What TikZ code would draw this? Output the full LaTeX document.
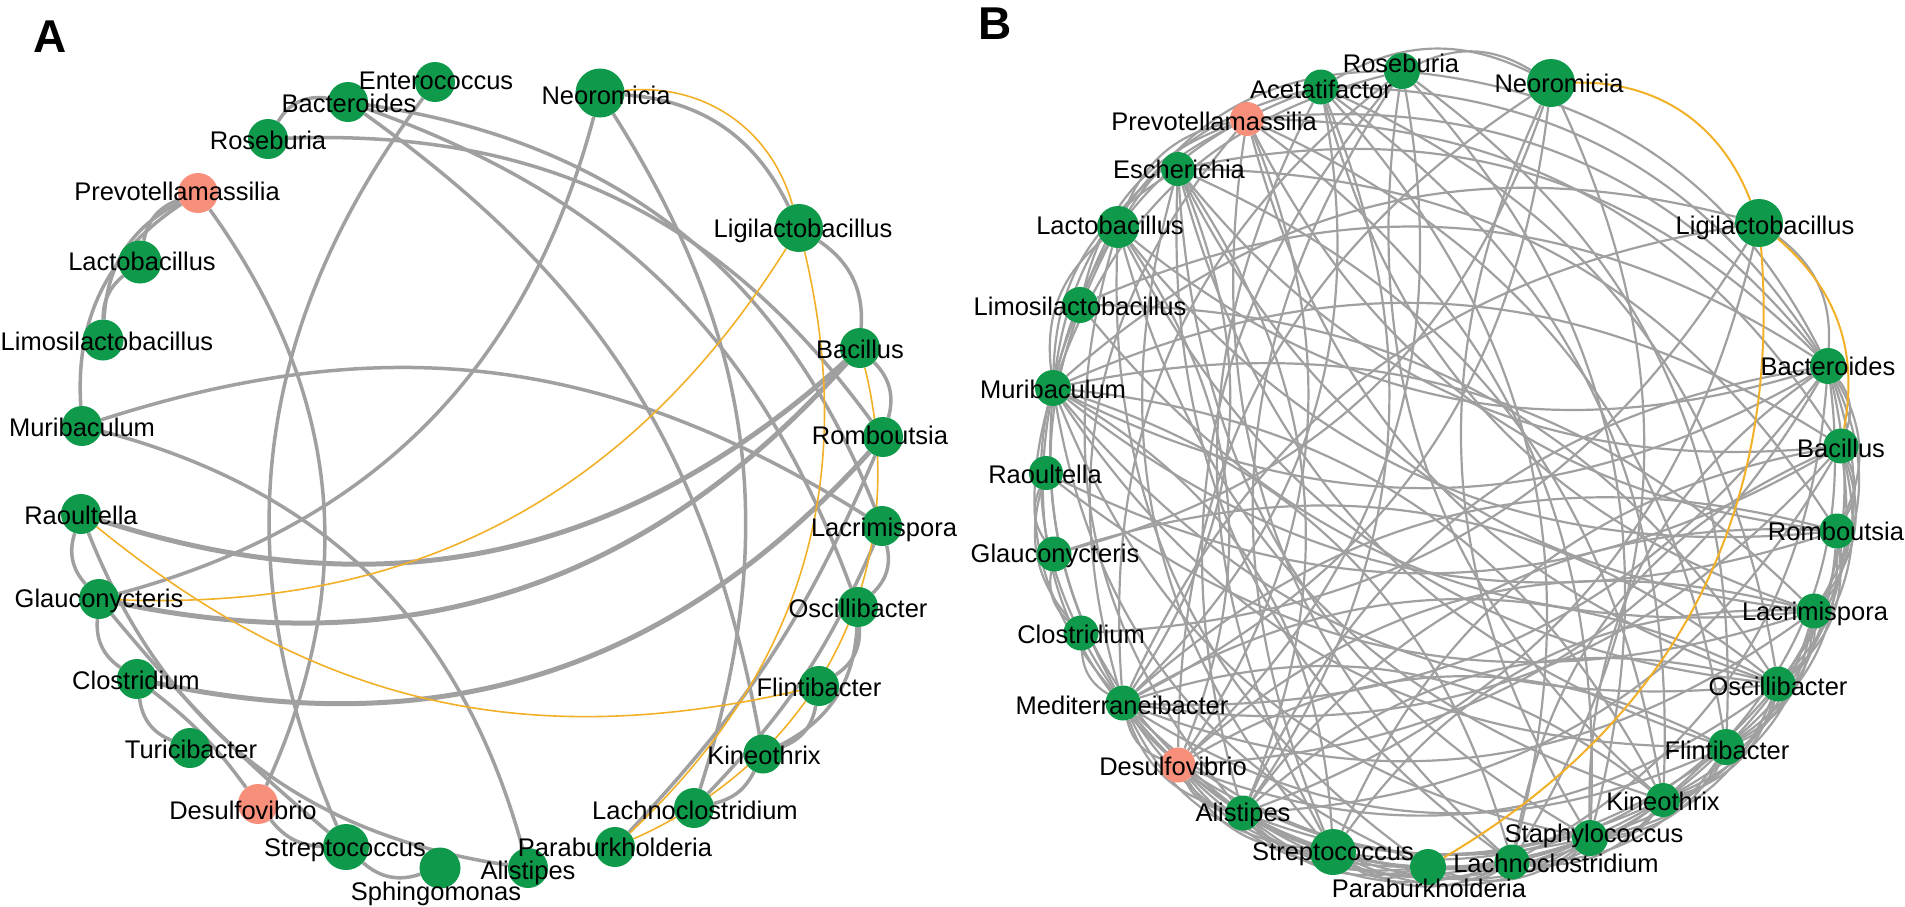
\documentclass[tikz,border=0pt]{standalone}
\usepackage{fontspec}
\setmainfont{Liberation Sans}
\usetikzlibrary{backgrounds}
\definecolor{ngreen}{RGB}{14,154,74}
\definecolor{nsalmon}{RGB}{248,143,122}
\definecolor{egray}{RGB}{160,160,160}
\definecolor{eorange}{RGB}{242,176,40}
\tikzset{
  gnode/.style={circle, fill=ngreen, inner sep=0pt, minimum size=#1},
  snode/.style={circle, fill=nsalmon, inner sep=0pt, minimum size=#1},
  lab/.style={font=\fontsize{25.5}{30}\selectfont, anchor=base, inner sep=0pt},
  panel/.style={font=\fontsize{46}{46}\selectfont\bfseries, inner sep=0pt},
  ae/.style={draw=egray, line width=3.5pt},
  aet/.style={draw=egray, line width=5pt},
  ao/.style={draw=eorange, line width=1.6pt},
  be/.style={draw=egray, line width=2.2pt},
  bo/.style={draw=eorange, line width=2pt}
}
\begin{document}
\begin{tikzpicture}[x=1pt,y=-1pt]
\useasboundingbox (0,0) rectangle (1905,906);
\node[panel] (pA) at (50,37) {A};
\node[panel] (pB) at (995,24) {B};

% ---------------- Panel A nodes ----------------
\node[gnode=40] (aEnt) at (435,82) {};
\node[gnode=40] (aBac) at (348,102) {};
\node[gnode=40] (aRos) at (268,139) {};
\node[snode=40] (aPre) at (198,193) {};
\node[gnode=43] (aLac) at (140,262) {};
\node[gnode=41] (aLim) at (103,340) {};
\node[gnode=40] (aMur) at (82,426) {};
\node[gnode=40] (aRao) at (81,514) {};
\node[gnode=40] (aGla) at (99,599) {};
\node[gnode=40] (aClo) at (137,679) {};
\node[gnode=40] (aTur) at (190,748) {};
\node[snode=40] (aDes) at (258,804) {};
\node[gnode=46] (aStr) at (346,847) {};
\node[gnode=41] (aSph) at (440,868) {};
\node[gnode=40] (aAli) at (528,868) {};
\node[gnode=40] (aPar) at (615,847) {};
\node[gnode=40] (aLch) at (694,808) {};
\node[gnode=39] (aKin) at (763,754) {};
\node[gnode=40] (aFli) at (819,686) {};
\node[gnode=40] (aOsc) at (858,607) {};
\node[gnode=40] (aLcr) at (882,526) {};
\node[gnode=40] (aRom) at (883,437) {};
\node[gnode=40] (aBcl) at (860,348) {};
\node[gnode=48] (aLig) at (799,228) {};
\node[gnode=49] (aNeo) at (600,93) {};

% ---------------- Panel A labels ----------------
\node[lab] (laEnt) at (436,89) {Enterococcus};
\node[lab] (laBac) at (349,112) {Bacteroides};
\node[lab] (laRos) at (268,149) {Roseburia};
\node[lab] (laPre) at (177,200) {Prevotellamassilia};
\node[lab] (laLac) at (142,270) {Lactobacillus};
\node[lab] (laLim) at (107,350) {Limosilactobacillus};
\node[lab] (laMur) at (82,436) {Muribaculum};
\node[lab] (laRao) at (81,524) {Raoultella};
\node[lab] (laGla) at (99,607) {Glauconycteris};
\node[lab] (laClo) at (136,689) {Clostridium};
\node[lab] (laTur) at (191,758) {Turicibacter};
\node[lab] (laDes) at (243,819) {Desulfovibrio};
\node[lab] (laStr) at (345,856) {Streptococcus};
\node[lab] (laSph) at (436,900) {Sphingomonas};
\node[lab] (laAli) at (528,879) {Alistipes};
\node[lab] (laPar) at (615,856) {Paraburkholderia};
\node[lab] (laLch) at (695,819) {Lachnoclostridium};
\node[lab] (laKin) at (764,764) {Kineothrix};
\node[lab] (laFli) at (819,696) {Flintibacter};
\node[lab] (laOsc) at (858,617) {Oscillibacter};
\node[lab] (laLcr) at (884,536) {Lacrimispora};
\node[lab] (laRom) at (880,444) {Romboutsia};
\node[lab] (laBcl) at (860,358) {Bacillus};
\node[lab] (laLig) at (803,237) {Ligilactobacillus};
\node[lab] (laNeo) at (606,104) {Neoromicia};

% ---------------- Panel B nodes (clockwise from top) ----------------
\foreach \i/\x/\y/\s/\c in {
  0/1551/83/48/ngreen, 1/1759/223/48/ngreen, 2/1828/366/36/ngreen,
  3/1841/446/35/ngreen, 4/1837/531/35/ngreen, 5/1814/611/35/ngreen,
  6/1778/684/35/ngreen, 7/1726/747/36/ngreen, 8/1663/800/34/ngreen,
  9/1590/838/36/ngreen, 10/1512/862/35/ngreen, 11/1428/867/36/ngreen,
  12/1333/852/46/ngreen, 13/1243/813/35/ngreen, 14/1178/765/35/nsalmon,
  15/1123/703/35/ngreen, 16/1081/633/35/ngreen, 17/1054/554/35/ngreen,
  18/1046/473/34/ngreen, 19/1053/388/36/ngreen, 20/1080/305/36/ngreen,
  21/1118/227/42/ngreen, 22/1178/169/34/ngreen, 23/1247/119/34/nsalmon,
  24/1321/87/35/ngreen, 25/1402/71/36/ngreen}
  {\node[circle, fill=\c, inner sep=0pt, minimum size=\s] (b\i) at (\x,\y) {};}

% ---------------- Panel B labels ----------------
\foreach \i/\x/\y/\t in {
  0/1559/83/Neoromicia, 1/1765/225/Ligilactobacillus, 2/1828/366/Bacteroides,
  3/1841/448/Bacillus, 4/1836/531/Romboutsia, 5/1815/611/Lacrimispora,
  6/1778/686/Oscillibacter, 7/1727/750/Flintibacter, 8/1663/801/Kineothrix,
  9/1594/833/Staphylococcus, 10/1556/863/Lachnoclostridium, 11/1429/888/Paraburkholderia,
  12/1333/851/Streptococcus, 13/1243/812/Alistipes, 14/1173/766/Desulfovibrio,
  15/1122/705/Mediterraneibacter, 16/1081/634/Clostridium, 17/1055/553/Glauconycteris,
  18/1045/474/Raoultella, 19/1053/389/Muribaculum, 20/1080/306/Limosilactobacillus,
  21/1110/225/Lactobacillus, 22/1179/169/Escherichia, 23/1214/121/Prevotellamassilia,
  24/1321/89/Acetatifactor, 25/1401/63/Roseburia}
  {\node[lab] (bl\i) at (\x,\y+9) {\t};}

% ---------------- Edges ----------------
\begin{scope}[on background layer]
% Panel A gray
\draw[ae] (aRos) to[bend left=35] (aBac);
\draw[ae] (aEnt) to[bend right=30] (aStr);
\draw[ae] (aBac) to[bend left=30] (aLcr);
\draw[ae] (aBac) to[bend left=25] (aOsc);
\draw[ae] (aBac) to[bend left=22] (aKin);
\draw[ae] (aRos) to[bend left=28] (aRom);
\draw[ae] (aPre) to[bend right=30] (aLac);
\draw[ae] (aPre) to[bend right=30] (aLim);
\draw[ae] (aPre) to[bend right=30] (aMur);
\draw[ae] (aLac) to[bend right=25] (aLim);
\draw[ae] (aPre) to[bend left=30] (aDes);
\draw[ae] (aMur) to[bend left=25] (aLcr);
\draw[ae] (aMur) to[bend left=30] (aAli);
\draw[ae] (aRao) to[bend right=30] (aGla);
\draw[aet] (aRao) to[bend right=30] (aBcl);
\draw[ae] (aRao) to[bend right=30] (aAli);
\draw[aet] (aGla) to[bend right=30] (aBcl);
\draw[ae] (aGla) to[bend right=30] (aNeo);
\draw[ae] (aGla) to[bend right=30] (aClo);
\draw[aet] (aClo) to[bend right=30] (aRom);
\draw[ae] (aClo) to[bend right=30] (aTur);
\draw[ae] (aClo) to[bend left=8] (aDes);
\draw[ae] (aDes) to[bend right=25] (aStr);
\draw[ae] (aStr) to[bend right=30] (aSph);
\draw[ae] (aGla) to[bend right=5] (aStr);
\draw[ae] (aNeo) to[bend left=30] (aLig);
\draw[ae] (aNeo) to[bend left=25] (aLch);
\draw[ae] (aLig) to[bend left=30] (aBcl);
\draw[ae] (aBcl) to[bend left=30] (aRom);
\draw[ae] (aRom) to[bend left=10] (aPar);
\draw[ae] (aLch) to[bend right=10] (aLcr);
\draw[ae] (aLcr) to[bend left=30] (aOsc);
\draw[ae] (aOsc) to[bend left=30] (aFli);
\draw[ae] (aOsc) to[bend left=30] (aKin);
\draw[ae] (aFli) to[bend left=30] (aKin);
\draw[ae] (aKin) to[bend left=25] (aLch);
% Panel A orange
\draw[ao] (aNeo) to[bend left=40] (aLig);
\draw[ao] (aGla) to[bend right=30] (aLig);
\draw[ao] (aLig) to[bend left=30] (aPar);
\draw[ao] (aRao) to[bend right=26] (aFli);
\draw[ao] (aBcl) to[bend left=40] (aPar);

% Panel B gray: short edges bow outward, long ones alternate sides
\foreach \p/\q in {
 25/19,25/15,25/14,25/13,25/12,25/9,25/8,25/7,25/2,25/21,25/0,
 24/19,24/20,24/15,24/13,24/10,24/6,24/5,24/2,24/12,24/8,
 23/21,23/20,23/19,23/15,23/14,23/9,23/7,23/6,23/4,23/2,23/3,23/10,
 22/19,22/15,22/13,22/12,22/10,22/9,22/8,22/7,22/5,22/4,22/2,22/3,
 21/19,21/15,21/14,21/13,21/11,21/8,21/6,21/2,21/4,
 20/15,20/2,20/5,20/6,
 19/15,19/14,19/13,19/12,19/11,19/10,19/9,19/8,19/7,19/6,19/5,19/4,19/3,19/2,19/1,
 18/17,18/16,18/3,18/5,
 17/16,17/0,17/6,
 16/15,16/1,
 15/14,15/13,15/12,15/11,15/10,15/9,15/8,15/7,15/6,15/5,15/4,15/3,15/2,15/1,15/0,
 14/13,14/12,14/11,14/10,14/9,14/8,14/7,14/6,14/5,14/2,14/0,
 13/12,13/11,13/10,13/9,13/8,13/7,13/6,13/4,13/3,13/2,13/1,
 12/11,12/10,12/9,12/8,12/7,12/6,12/5,12/3,
 11/10,11/9,
 10/9,10/8,10/7,10/3,10/2,10/0,
 9/8,9/7,9/6,9/5,9/2,9/0,
 8/7,8/6,8/5,8/4,8/2,
 7/6,7/5,7/4,7/3,7/2,
 6/5,6/4,6/3,6/2,
 5/4,5/3,5/2,
 4/3,4/2,
 3/2,
 2/1,
 0/24}
{
  \pgfmathtruncatemacro\dd{mod(\q-\p+26,26)}
  \pgfmathtruncatemacro\pty{mod(\p+\q,2)}
  \ifnum\dd>13
    \pgfmathtruncatemacro\dd{26-\dd}
    \edef\src{\q}\edef\dst{\p}
  \else
    \edef\src{\p}\edef\dst{\q}
  \fi
  \ifnum\dd<6
    \draw[be] (b\src) to[bend left=28] (b\dst);
  \else
    \ifnum\pty=0
      \draw[be] (b\src) to[bend left=28] (b\dst);
    \else
      \draw[be] (b\src) to[bend right=28] (b\dst);
    \fi
  \fi
}
% Panel B orange
\draw[bo] (b0) to[bend left=35] (b1);
\draw[bo] (b1) to[bend left=30] (b3);
\draw[bo] (b1) to[bend left=32] (b11);
\end{scope}
\end{tikzpicture}
\end{document}
